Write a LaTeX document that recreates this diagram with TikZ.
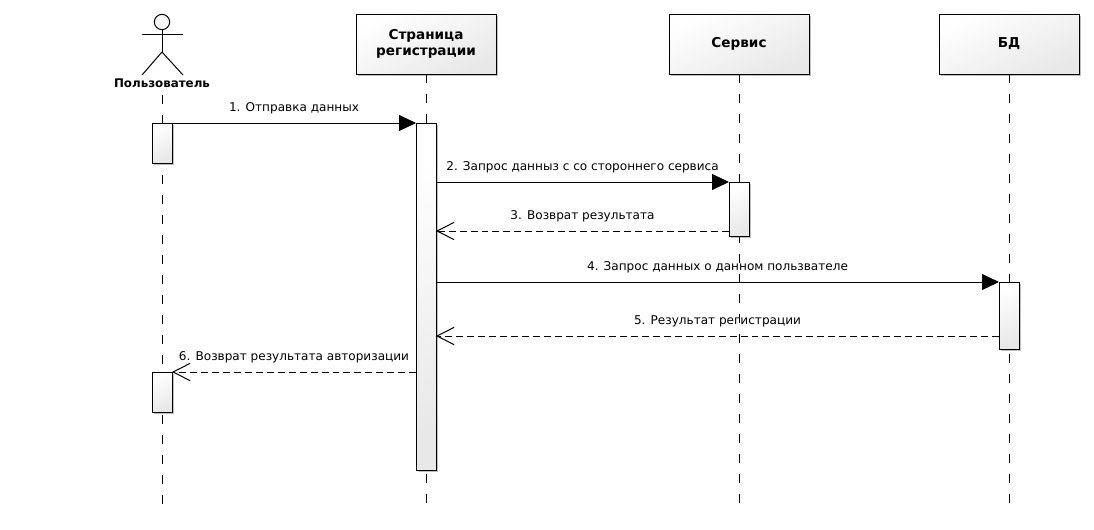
\documentclass[tikz,border=0pt]{standalone}
\usepackage{fontspec}
\setmainfont{DejaVu Sans}
\usetikzlibrary{arrows.meta,shadows}

\tikzset{
  shade box/.style={draw,line width=0.75pt,top color=white,bottom color=black!9,shading angle=25,
    drop shadow={shadow xshift=1.8pt,shadow yshift=-1.8pt,opacity=.25,fill=black}},
  headbox/.style={shade box,minimum width=105pt,minimum height=45pt,inner sep=0pt,outer sep=0pt,
    align=center,font=\bfseries\fontsize{10.2}{12}\selectfont},
  actbox/.style={shade box,anchor=north,minimum width=15pt,inner sep=0pt,outer sep=0pt},
  lifeline/.style={line width=0.75pt,dash pattern=on 7.1pt off 7.9pt},
  msgtext/.style={midway,above=6.4pt,inner sep=0pt,font=\fontsize{9.05}{11}\selectfont},
  callmsg/.style={line width=0.75pt,-{Triangle[length=12.75pt,width=12pt]}},
  backmsg/.style={line width=0.75pt,dash pattern=on 5.2pt off 3pt,-{Straight Barb[length=12.75pt,width=13pt]}}
}

\begin{document}
\begin{tikzpicture}[x=0.75pt,y=-0.75pt]
  \useasboundingbox (0,0) rectangle (1094,529);

  \coordinate (userTop) at (162,95);
  \coordinate (userEnd) at (162,505);
  \coordinate (pageEnd) at (426,505);
  \coordinate (serviceEnd) at (739.5,505);
  \coordinate (dbEnd) at (1009,505);

  \node[headbox] (page) at (426,44) {Страница\\регистрации};
  \node[headbox] (service) at (739,44) {Сервис};
  \node[headbox] (db) at (1009,44) {БД};

  \draw[lifeline] (userTop) -- (userEnd);
  \draw[lifeline] (page.south) -- (pageEnd);
  \draw[lifeline] (service.south -| serviceEnd) -- (serviceEnd);
  \draw[lifeline] (db.south) -- (dbEnd);

  \node[actbox,minimum height=30pt] (userA) at (162,123) {};
  \node[actbox,minimum height=260.25pt] (pageA) at (426,123) {};
  \node[actbox,minimum height=40.5pt] (serviceA) at (739,182) {};
  \node[actbox,minimum height=50.25pt] (dbA) at (1009,282) {};
  \node[actbox,minimum height=30pt] (userB) at (162,372) {};

  \node[circle,draw,line width=0.75pt,fill=black!3,inner sep=0pt,outer sep=0pt,minimum size=11.5pt] (head) at (162,22) {};
  \coordinate (hip) at (162,52);
  \coordinate (armL) at (142,34);
  \coordinate (armR) at (183,34);
  \coordinate (legL) at (142,75);
  \coordinate (legR) at (183,75);
  \draw[line width=0.75pt] (head.south) -- (hip);
  \draw[line width=0.75pt] (armL) -- (armR);
  \draw[line width=0.75pt] (legL) -- (hip) -- (legR);
  \node[font=\bfseries\fontsize{8.9}{11}\selectfont,inner sep=0pt] (user) at (162,83) {Пользователь};

  \coordinate (m2) at (0,182);
  \coordinate (m3) at (0,231);
  \coordinate (m4) at (0,282);
  \coordinate (m5) at (0,336);

  \draw[callmsg] (userA.north east) -- node[msgtext] (t1) {1. Отправка данных} (pageA.north west);
  \draw[callmsg] (pageA.east |- m2) -- node[msgtext] (t2) {2. Запрос данныз с со стороннего сервиса} (serviceA.north west);
  \draw[backmsg] (serviceA.west |- m3) -- node[msgtext] (t3) {3. Возврат результата} (pageA.east |- m3);
  \draw[callmsg] (pageA.east |- m4) -- node[msgtext] (t4) {4. Запрос данных о данном пользвателе} (dbA.north west);
  \draw[backmsg] (dbA.west |- m5) -- node[msgtext] (t5) {5. Результат регистрации} (pageA.east |- m5);
  \draw[backmsg] (pageA.west |- userB.north) -- node[msgtext] (t6) {6. Возврат результата авторизации} (userB.north east);
\end{tikzpicture}
\end{document}
